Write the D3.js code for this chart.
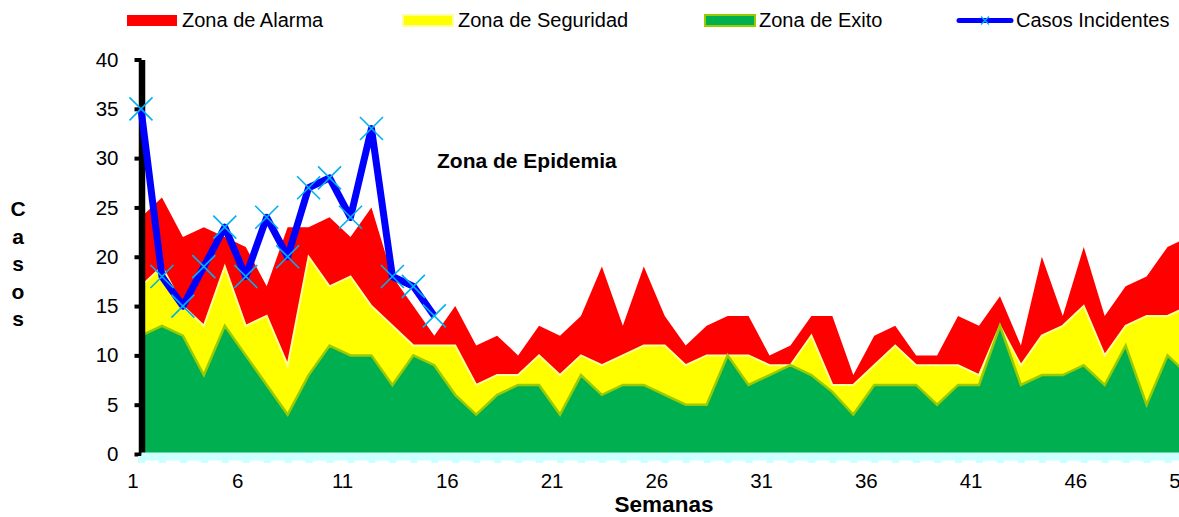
<!DOCTYPE html>
<meta charset="utf-8">
<script src="https://cdn.jsdelivr.net/npm/d3@7"></script>
<style type="text/css">
  body { margin: 0; background: #fff; }
  svg { display: block; font-family: "Liberation Sans", Arial, sans-serif; }
  .band .domain { stroke: #ccffff; stroke-width: 8; }
  .band .tick line { stroke: #ccffff; stroke-width: 7; }
  .yaxis .domain { stroke: #000; stroke-width: 6.5; }
  .yaxis .tick line { stroke: #000; stroke-width: 4; }
  .tick text { font-size: 20.5px; fill: #000; }
</style>
<body>
<script>

// semanas epidemiologicas
var semanas = [1, 2, 3, 4, 5, 6, 7, 8, 9, 10, 11, 12, 13, 14, 15, 16, 17, 18, 19, 20,
  21, 22, 23, 24, 25, 26, 27, 28, 29, 30, 31, 32, 33, 34, 35, 36, 37, 38, 39, 40,
  41, 42, 43, 44, 45, 46, 47, 48, 49, 50, 51, 52];

// limite superior de cada zona
var zonaAlarma = [24, 26, 22, 23, 22, 21, 17, 23, 23, 24, 22, 25, 18, 15, 12, 15, 11, 12, 10, 13,
  12, 14, 19, 13, 19, 14, 11, 13, 14, 14, 10, 11, 14, 14, 8, 12, 13, 10, 10, 14,
  13, 16, 11, 20, 14, 21, 14, 17, 18, 21, 22, 22];
var zonaSeguridad = [17, 19, 15, 13, 19, 13, 14, 9, 20, 17, 18, 15, 13, 11, 11, 11, 7, 8, 8, 10,
  8, 10, 9, 10, 11, 11, 9, 10, 10, 10, 9, 9, 12, 7, 7, 9, 11, 9, 9, 9,
  8, 13, 9, 12, 13, 15, 10, 13, 14, 14, 15, 15];
var zonaExito = [12, 13, 12, 8, 13, 10, 7, 4, 8, 11, 10, 10, 7, 10, 9, 6, 4, 6, 7, 7,
  4, 8, 6, 7, 7, 6, 5, 5, 10, 7, 8, 9, 8, 6.3, 4, 7, 7, 7, 5, 7,
  7, 13, 7, 8, 8, 9, 7, 11, 5, 10, 8, 9];

// casos incidentes (semanas 1 - 15)
var casos = [35, 18, 15, 19, 23, 18, 24, 20, 27, 28, 24, 33, 18, 17, 14];

var xTicks = [1, 6, 11, 16, 21, 26, 31, 36, 41, 46, 51];
var yTicks = [0, 5, 10, 15, 20, 25, 30, 35, 40];

var width = 1179, height = 517;
var step = 20.95;

var svg = d3.select("body").append("svg")
    .attr("width", width)
    .attr("height", height);

var xScale = d3.scaleLinear()
    .domain([1, 52])
    .range([141, 141 + 51 * step]);

var yScale = d3.scaleLinear()
    .domain([0, 40])
    .range([454, 59.5]);

var area = d3.area()
    .x((d, i) => xScale(semanas[i]))
    .y0(yScale(0))
    .y1(d => yScale(d));

var edge = d3.line()
    .x((d, i) => xScale(semanas[i]))
    .y(d => yScale(d));

// zonas
svg.append("path").attr("d", area(zonaAlarma)).style("fill", "#ff0000");
svg.append("path").attr("d", area(zonaSeguridad)).style("fill", "#ffff00");
svg.append("path").attr("d", edge(zonaSeguridad))
    .style("fill", "none").style("stroke", "#ffff99").style("stroke-width", 2);
svg.append("path").attr("d", area(zonaExito)).style("fill", "#00b050");
svg.append("path").attr("d", edge(zonaExito))
    .style("fill", "none").style("stroke", "#99cc00").style("stroke-width", 2.5);

// eje y
svg.append("g")
    .attr("class", "yaxis")
    .attr("transform", "translate(141.5,0)")
    .call(d3.axisLeft(yScale).tickValues(yTicks).tickSize(7).tickSizeOuter(0).tickPadding(16));

// eje x (banda celeste)
svg.append("g")
    .attr("class", "band")
    .attr("transform", `translate(0,${yScale(0) + 2})`)
    .call(d3.axisBottom(xScale).tickValues(semanas).tickSize(7).tickSizeOuter(0).tickFormat(""));

var xLabels = svg.append("g")
    .attr("transform", `translate(0,${yScale(0) + 2})`)
    .call(d3.axisBottom(xScale).tickValues(xTicks).tickSize(0).tickPadding(17));
xLabels.select(".domain").remove();
xLabels.selectAll("text").attr("dx", -step / 2 + 2);

// casos incidentes
var casosLine = d3.line()
    .x((d, i) => xScale(semanas[i]))
    .y(d => yScale(d));

svg.append("path")
    .attr("d", casosLine(casos))
    .style("fill", "none")
    .style("stroke", "#0000ff")
    .style("stroke-width", 7)
    .style("stroke-linejoin", "round");

var cross = s => `M${-s},${-s}L${s},${s}M${-s},${s}L${s},${-s}`;

svg.selectAll(".marker")
    .data(casos)
    .enter()
    .append("path")
        .attr("class", "marker")
        .attr("transform", (d, i) => `translate(${xScale(semanas[i])},${yScale(d)})`)
        .attr("d", cross(11.5))
        .style("stroke", "#00b0f0")
        .style("stroke-width", 1.6);

// textos
svg.append("text")
    .attr("x", 437)
    .attr("y", 168)
    .style("font-weight", "bold")
    .style("font-size", "21px")
    .text("Zona de Epidemia");

svg.append("text")
    .attr("x", 664)
    .attr("y", 512)
    .style("text-anchor", "middle")
    .style("font-weight", "bold")
    .style("font-size", "22.5px")
    .text("Semanas");

var casosTitle = svg.append("text")
    .style("font-weight", "bold")
    .style("font-size", "21px")
    .style("text-anchor", "middle");
"Casos".split("").forEach((c, i) => {
    casosTitle.append("tspan").attr("x", 18).attr("y", 216 + i * 27.5).text(c);
});

// leyenda
var legendX = [126, 402, 704, 957];
var legendTextX = [182, 458, 759, 1016];
var legend = [
    {name: "Zona de Alarma", fill: "#ff0000", stroke: "none"},
    {name: "Zona de Seguridad", fill: "#ffff00", stroke: "#ffff99"},
    {name: "Zona de Exito", fill: "#00b050", stroke: "#99cc00"},
    {name: "Casos Incidentes", line: true}
];

legend.forEach((l, i) => {
    var g = svg.append("g").attr("transform", `translate(${legendX[i]},0)`);
    if (l.line) {
        g.append("line")
            .attr("x1", 2).attr("x2", 54).attr("y1", 20.5).attr("y2", 20.5)
            .style("stroke", "#0000ff").style("stroke-width", 5).style("stroke-linecap", "round");
        g.append("path")
            .attr("transform", "translate(28,20.5)")
            .attr("d", cross(4))
            .style("stroke", "#00b0f0").style("stroke-width", 1.3);
    } else {
        g.append("rect")
            .attr("x", 1).attr("y", 15).attr("width", 50).attr("height", 11)
            .style("fill", l.fill).style("stroke", l.stroke).style("stroke-width", 2);
    }
    svg.append("text")
        .attr("x", legendTextX[i])
        .attr("y", 27)
        .style("font-size", "20px")
        .text(l.name);
});

</script>
</body>
</html>
